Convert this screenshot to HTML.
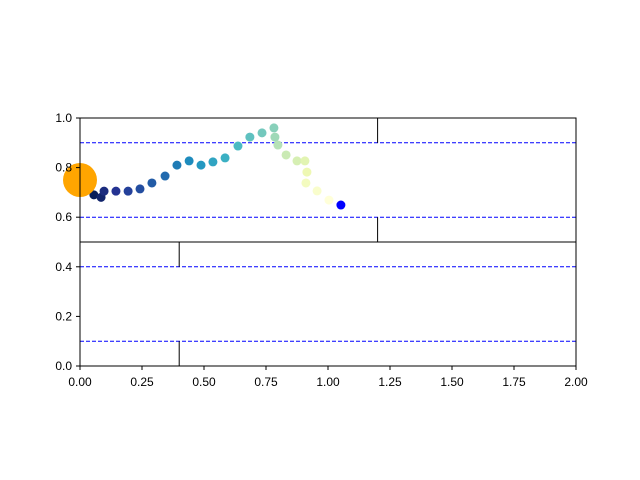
<!DOCTYPE html>
<html><head><meta charset="utf-8"><style>body{margin:0;background:#fff}svg{display:block;font-family:"Liberation Sans","DejaVu Sans",sans-serif}</style></head>
<body>
<svg id="c" width="640" height="480"></svg>
<script>
const xs=[0.056,0.085,0.097,0.145,0.194,0.242,0.29,0.343,0.391,0.44,0.488,0.536,0.585,0.637,0.685,0.734,0.782,0.786,0.798,0.831,0.875,0.907,0.915,0.911,0.956,1.004];
const ys=[0.69,0.68,0.705,0.705,0.705,0.714,0.738,0.766,0.81,0.827,0.81,0.823,0.839,0.887,0.923,0.94,0.96,0.923,0.891,0.851,0.827,0.827,0.782,0.738,0.706,0.669];
const endPoint=[1.052,0.649];
const bigPoint=[0,0.75];
const hLines=[0.9,0.6,0.4,0.1];
const vSegs=[[1.2,0.9,1.0],[1.2,0.5,0.6],[0.4,0.4,0.5],[0.4,0,0.1]];
const xTicks=[0,0.25,0.5,0.75,1,1.25,1.5,1.75,2];
const yTicks=[0,0.2,0.4,0.6,0.8,1.0];
const X=v=>80+v*248, Y=v=>366-v*248;
const svg=document.getElementById('c');const NS='http://www.w3.org/2000/svg';
function mk(t,a,p){const e=document.createElementNS(NS,t);for(const k in a)e.setAttribute(k,a[k]);(p||svg).appendChild(e);return e;}
const stops=[[8,29,88],[37,52,148],[34,94,168],[29,145,192],[65,182,196],[127,205,187],[199,233,180],[237,248,177],[255,255,217]];
function col(t){const s=t*(stops.length-1);const i=Math.min(Math.floor(s),stops.length-2);const f=s-i;const a=stops[i],b=stops[i+1];return 'rgb('+a.map((v,k)=>Math.round(v+(b[k]-v)*f)).join(',')+')';}
hLines.forEach((v,i)=>{const l=mk('line',{x1:80,x2:576,y1:Y(v),y2:Y(v),stroke:'#0000ff','stroke-width':1,'stroke-dasharray':'4,2'});
});
const hl=mk('line',{x1:80,x2:576,y1:Y(0.5),y2:Y(0.5),stroke:'#000','stroke-width':1});

vSegs.forEach((s,i)=>{const l=mk('line',{x1:X(s[0]),x2:X(s[0]),y1:Y(s[1]),y2:Y(s[2]),stroke:'#000','stroke-width':1});
});
xs.forEach((x,i)=>{const c=mk('circle',{cx:X(x),cy:Y(ys[i]),r:4.5,fill:col(i/(xs.length-1))});
});
const ep=mk('circle',{cx:X(endPoint[0]),cy:Y(endPoint[1]),r:4.5,fill:'#0000ff'});

const bp=mk('circle',{cx:X(bigPoint[0]),cy:Y(bigPoint[1]),r:17,fill:'#ffa500'});

const fr=mk('rect',{x:80,y:118,width:496,height:248,fill:'none',stroke:'#000','stroke-width':1});

xTicks.forEach((v,i)=>{mk('line',{x1:X(v),x2:X(v),y1:366,y2:370,stroke:'#000'});
const t=mk('text',{x:X(v),y:386,'text-anchor':'middle','font-size':12});t.textContent=v.toFixed(2);
});
yTicks.forEach((v,i)=>{mk('line',{x1:76,x2:80,y1:Y(v),y2:Y(v),stroke:'#000'});
const t=mk('text',{x:72,y:Y(v)+4,'text-anchor':'end','font-size':12});t.textContent=v.toFixed(1);
});
</script>
</body></html>
